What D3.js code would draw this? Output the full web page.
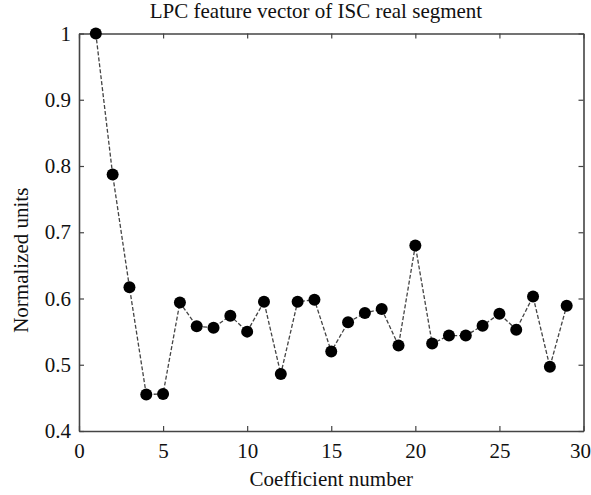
<!DOCTYPE html>
<html>
<head>
<meta charset="utf-8">
<script src="https://cdn.jsdelivr.net/npm/d3@7"></script>
<style>
  body { margin: 0; background: #fff; }
  text { font-family: "Liberation Serif", "Times New Roman", serif; fill: #111; }
</style>
</head>
<body>
<div id="chart"></div>
<script>
// datos
const coef = [1, 2, 3, 4, 5, 6, 7, 8, 9, 10, 11, 12, 13, 14, 15, 16, 17, 18, 19, 20, 21, 22, 23, 24, 25, 26, 27, 28, 29];
const values = [1.0, 0.787, 0.617, 0.455, 0.456, 0.594, 0.558, 0.556, 0.574, 0.550,
                0.595, 0.486, 0.595, 0.598, 0.520, 0.564, 0.578, 0.584, 0.529, 0.680,
                0.532, 0.544, 0.544, 0.559, 0.577, 0.553, 0.603, 0.497, 0.589];
const xTicks = [0, 5, 10, 15, 20, 25, 30];
const yTicks = [0.4, 0.5, 0.6, 0.7, 0.8, 0.9, 1];

const width = 591, height = 495;
const margin = { top: 33.5, right: 7.5, bottom: 64, left: 79 };
const innerW = width - margin.left - margin.right;
const innerH = height - margin.top - margin.bottom;
const fontSize = "21px";

const svg = d3.select("#chart").append("svg")
  .attr("width", width).attr("height", height);

const g = svg.append("g").attr("transform", `translate(${margin.left},${margin.top})`);

const x = d3.scaleLinear().domain([0, 30]).range([0, innerW]);
const y = d3.scaleLinear().domain([0.4, 1]).range([innerH, 0]);

// ejes con ticks hacia dentro en los cuatro lados
const axisStyle = sel => {
  sel.select(".domain").attr("stroke", "#444").attr("stroke-width", 1.6);
  sel.selectAll(".tick line").attr("stroke", "#444").attr("stroke-width", 1.2);
  sel.selectAll("text").style("font-size", fontSize).attr("fill", "#111");
};

const xAxis = g.append("g").attr("transform", `translate(0,${innerH})`)
  .call(d3.axisBottom(x).tickValues(xTicks).tickSizeInner(-5).tickSizeOuter(0).tickPadding(12).tickFormat(d3.format("d")))
  .call(axisStyle);
// el ultimo numero se desplaza un poco para que no se corte
xAxis.selectAll(".tick text").filter(d => d === 30).attr("text-anchor", "end").attr("x", 7);

g.append("g")
  .call(d3.axisTop(x).tickValues(xTicks).tickSizeInner(-5).tickSizeOuter(0).tickFormat(""))
  .call(axisStyle);
g.append("g")
  .call(d3.axisLeft(y).tickValues(yTicks).tickSizeInner(-5).tickSizeOuter(0).tickPadding(8).tickFormat(d => d === 1 ? "1" : d3.format(".1f")(d)))
  .call(axisStyle);
g.append("g").attr("transform", `translate(${innerW},0)`)
  .call(d3.axisRight(y).tickValues(yTicks).tickSizeInner(-5).tickSizeOuter(0).tickFormat(""))
  .call(axisStyle);

// linea discontinua
const data = coef.map((c, i) => [c, values[i]]);
g.append("path")
  .datum(data)
  .attr("fill", "none")
  .attr("stroke", "#444")
  .attr("stroke-width", 1.3)
  .attr("stroke-dasharray", "4,2")
  .attr("d", d3.line().x(d => x(d[0])).y(d => y(d[1])));

// marcadores
g.selectAll("circle")
  .data(data)
  .join("circle")
  .attr("cx", d => x(d[0]))
  .attr("cy", d => y(d[1]))
  .attr("r", 6)
  .attr("fill", "#000");

// titulo y etiquetas
svg.append("text")
  .attr("x", 316).attr("y", 18)
  .attr("text-anchor", "middle").style("font-size", fontSize)
  .text("LPC feature vector of ISC real segment");

svg.append("text")
  .attr("x", margin.left + innerW / 2).attr("y", 486)
  .attr("text-anchor", "middle").style("font-size", fontSize)
  .text("Coefficient number");

svg.append("text")
  .attr("transform", `translate(28,${margin.top + innerH / 2 + 28}) rotate(-90)`)
  .attr("text-anchor", "middle").style("font-size", fontSize)
  .text("Normalized units");
</script>
</body>
</html>
